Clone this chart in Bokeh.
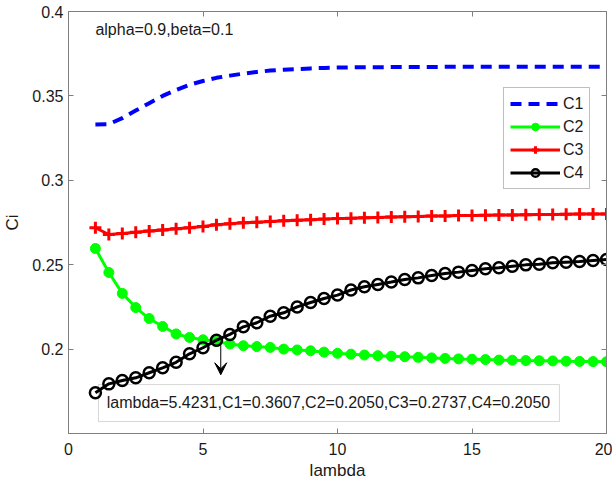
from bokeh.plotting import figure
from bokeh.models import (Range1d, FixedTicker, LinearAxis, Label, Arrow, VeeHead,
                          Legend, LegendItem, BoxAnnotation, CustomJSTickFormatter)
from bokeh.embed import file_html
from bokeh.resources import INLINE

# ---------------- data ----------------
lam = [1 + 0.5 * i for i in range(39)]  # 1, 1.5, ..., 20

c1 = [0.3331, 0.3333, 0.3368, 0.3413, 0.3457, 0.3500, 0.3535, 0.3566, 0.3588, 0.3607,
      0.3620, 0.3632, 0.3642, 0.3650, 0.3655, 0.3659, 0.3663, 0.3666, 0.3668, 0.3669,
      0.3670, 0.3670, 0.3671, 0.3671, 0.3671, 0.3671, 0.3672, 0.3672, 0.3672, 0.3672,
      0.3672, 0.3672, 0.3672, 0.3672, 0.3672, 0.3672, 0.3672, 0.3672, 0.3672]

c2 = [0.2596, 0.2454, 0.2330, 0.2246, 0.2181, 0.2134, 0.2090, 0.2069, 0.2055, 0.2045,
      0.2030, 0.2020, 0.2015, 0.2010, 0.2000, 0.1995, 0.1990, 0.1982, 0.1975, 0.1970,
      0.1965, 0.1961, 0.1958, 0.1955, 0.1951, 0.1948, 0.1945, 0.1942, 0.1940, 0.1938,
      0.1935, 0.1934, 0.1932, 0.1931, 0.1930, 0.1928, 0.1927, 0.1926, 0.1925]

c3 = [0.2719, 0.2679, 0.2685, 0.2692, 0.2699, 0.2706, 0.2713, 0.2719, 0.2726, 0.2737,
      0.2742, 0.2748, 0.2752, 0.2756, 0.2760, 0.2764, 0.2767, 0.2770, 0.2773, 0.2775,
      0.2778, 0.2780, 0.2782, 0.2784, 0.2786, 0.2788, 0.2789, 0.2791, 0.2792, 0.2793,
      0.2794, 0.2795, 0.2796, 0.2797, 0.2798, 0.2799, 0.2800, 0.2801, 0.2801]

c4 = [0.1741, 0.1794, 0.1814, 0.1830, 0.1860, 0.1889, 0.1922, 0.1972, 0.2008, 0.2053,
      0.2087, 0.2132, 0.2156, 0.2195, 0.2215, 0.2250, 0.2276, 0.2300, 0.2320, 0.2350,
      0.2369, 0.2383, 0.2397, 0.2412, 0.2422, 0.2436, 0.2448, 0.2456, 0.2466, 0.2476,
      0.2482, 0.2491, 0.2499, 0.2503, 0.2511, 0.2515, 0.2519, 0.2525, 0.2531]

series_names = ["C1", "C2", "C3", "C4"]
x_ticks = [0, 5, 10, 15, 20]
y_ticks = [0.15, 0.2, 0.25, 0.3, 0.35, 0.4]
y_tick_labels = ["", "0.2", "0.25", "0.3", "0.35", "0.4"]

param_text = "alpha=0.9,beta=0.1"
param_pos = [1.0, 0.3893]
annot_text = "lambda=5.4231,C1=0.3607,C2=0.2050,C3=0.2737,C4=0.2050"
annot_pos = [1.42, 0.1681]
annot_box = [1.115, 18.25, 0.1571, 0.1790]   # left, right, bottom, top
arrow_x = 5.66
arrow_y = [0.2035, 0.1848]

FONT = "Liberation Sans"
GRAY = "#7f7f7f"
TXT = "#1a1a1a"

# ---------------- figure ----------------
p = figure(width=604, height=474, output_backend="svg", toolbar_location=None,
           x_range=Range1d(0, 20), y_range=Range1d(0.15, 0.4),
           min_border_left=60, min_border_right=6, min_border_top=11, min_border_bottom=41,
           frame_width=538, frame_height=422)
p.xgrid.visible = False
p.ygrid.visible = False
p.outline_line_color = GRAY
p.background_fill_color = "white"
p.border_fill_color = "white"

for ax in [p.xaxis[0], p.yaxis[0]]:
    ax.axis_line_color = GRAY
    ax.major_tick_line_color = GRAY
    ax.major_tick_in = 5
    ax.major_tick_out = 0
    ax.minor_tick_line_color = None
    ax.major_label_text_font = FONT
    ax.major_label_text_font_size = "16px"
    ax.major_label_text_color = TXT
    ax.axis_label_text_font = FONT
    ax.axis_label_text_font_size = "17px"
    ax.axis_label_text_font_style = "normal"
    ax.axis_label_text_color = TXT

p.xaxis[0].ticker = FixedTicker(ticks=x_ticks)
p.yaxis[0].ticker = FixedTicker(ticks=y_ticks)
p.yaxis[0].major_label_overrides = {t: l for t, l in zip(y_ticks, y_tick_labels)}
p.xaxis[0].axis_label = "lambda"
p.yaxis[0].axis_label = "Ci"
p.xaxis[0].major_label_standoff = 9
p.yaxis[0].major_label_standoff = 5
p.xaxis[0].axis_label_standoff = 3
p.yaxis[0].axis_label_standoff = 7

# top and right box ticks (no labels)
blank = CustomJSTickFormatter(code="return ''")
top = LinearAxis(ticker=FixedTicker(ticks=x_ticks), formatter=blank)
right = LinearAxis(ticker=FixedTicker(ticks=y_ticks), formatter=blank)
for ax in [top, right]:
    ax.axis_line_color = GRAY
    ax.major_tick_line_color = GRAY
    ax.major_tick_in = 5
    ax.major_tick_out = 0
    ax.minor_tick_line_color = None
    ax.major_label_standoff = 0
p.add_layout(top, "above")
p.add_layout(right, "right")

# annotation box sits beneath the curves
p.add_layout(BoxAnnotation(left=annot_box[0], right=annot_box[1],
                           bottom=annot_box[2], top=annot_box[3],
                           fill_color="white", fill_alpha=1,
                           line_color=GRAY, line_width=1, level="underlay"))

# ---------------- series ----------------
r1 = p.line(lam, c1, line_color="#0000ff", line_width=4, line_dash="11 7")
r2l = p.line(lam, c2, line_color="#00ff00", line_width=3)
r2m = p.scatter(lam, c2, marker="circle", size=10, fill_color="#00ff00", line_color="#00ff00")
r3l = p.line(lam, c3, line_color="#ff0000", line_width=3)
r3m = p.scatter(lam, c3, marker="cross", size=12, line_color="#ff0000", line_width=3)
r4l = p.line(lam, c4, line_color="black", line_width=3)
r4m = p.scatter(lam, c4, marker="circle", size=11, fill_color=None, line_color="black", line_width=2.5)

legend = Legend(items=[
    LegendItem(label=series_names[0], renderers=[r1]),
    LegendItem(label=series_names[1], renderers=[r2l, r2m]),
    LegendItem(label=series_names[2], renderers=[r3l, r3m]),
    LegendItem(label=series_names[3], renderers=[r4l, r4m]),
], location=(435, 244))
legend.border_line_color = GRAY
legend.border_line_width = 1
legend.background_fill_color = "white"
legend.background_fill_alpha = 1
legend.padding = 6
legend.spacing = 4
legend.margin = 0
legend.label_height = 19
legend.glyph_height = 19
legend.glyph_width = 50
legend.label_standoff = 3
legend.label_text_font = FONT
legend.label_text_font_size = "16px"
legend.label_text_color = TXT
p.add_layout(legend, "center")

# ---------------- annotations ----------------
p.add_layout(Label(x=param_pos[0], y=param_pos[1], text=param_text,
                   text_font=FONT, text_font_size="16px", text_color=TXT,
                   text_baseline="middle"))

p.add_layout(Arrow(end=VeeHead(size=12, fill_color="black", line_color="black", line_width=1),
                   x_start=arrow_x, y_start=arrow_y[0], x_end=arrow_x, y_end=arrow_y[1],
                   line_color="black", line_width=1))

p.add_layout(Label(x=annot_pos[0], y=annot_pos[1], text=annot_text,
                   text_font=FONT, text_font_size="16px", text_color=TXT,
                   text_baseline="middle"))

open("out.html", "w").write(file_html(p, INLINE))
